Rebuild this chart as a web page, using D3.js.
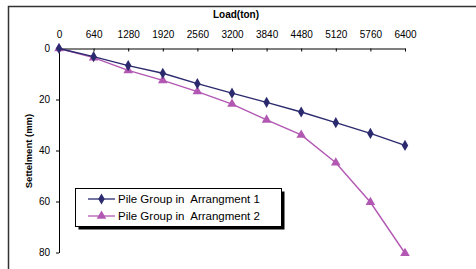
<!DOCTYPE html>
<html><head><meta charset="utf-8">
<script src="https://cdn.jsdelivr.net/npm/d3@7"></script>
<style>body{margin:0;background:#fff}svg{display:block;font-family:Arial,"Liberation Sans",sans-serif}</style>
</head><body>
<svg id="c" width="476" height="269"></svg>
<script>
const loads = [0,640,1280,1920,2560,3200,3840,4480,5120,5760,6400];
const xTicks = [0,640,1280,1920,2560,3200,3840,4480,5120,5760,6400];
const yTicks = [0,20,40,60,80];
const series1 = [0,3.2,6.7,9.7,13.8,17.5,21.1,24.9,29.1,33.3,38.0];
const series2 = [0,3.6,8.6,12.5,16.9,21.8,28.0,33.9,44.8,60.3,80.3];
const seriesNames = ["Pile Group in  Arrangment 1","Pile Group in  Arrangment 2"];
const colors = ["#2b2a6e","#b258b2"];

const svg = d3.select("#c");
svg.append("path").attr("d","M8.5,269 V6.5 H476").attr("fill","none").attr("stroke","#333").attr("stroke-width",1.5);

const x = d3.scaleLinear().domain([0,6400]).range([59,405]);
const y = d3.scaleLinear().domain([0,80]).range([48.5,252.5]);

const xa = svg.append("g").attr("transform","translate(0,48.5)")
  .call(d3.axisTop(x).tickValues(xTicks).tickSizeInner(-3).tickSizeOuter(0).tickPadding(11).tickFormat(d3.format("d")));
xa.select(".domain").attr("stroke","#000");
xa.selectAll("text").attr("font-size",10).attr("fill","#000");

const ya = svg.append("g").attr("transform","translate(59,0)")
  .call(d3.axisLeft(y).tickValues(yTicks).tickSizeInner(3).tickSizeOuter(0).tickPadding(6));
ya.select(".domain").attr("stroke","#000");
ya.selectAll("text").attr("font-size",10).attr("fill","#000");

svg.append("text").attr("x",236).attr("y",18).attr("text-anchor","middle")
  .attr("font-size",10).attr("font-weight","bold").text("Load(ton)");
svg.append("text").attr("transform","translate(32,151) rotate(-90)").attr("text-anchor","middle")
  .attr("font-size",9.5).attr("font-weight","bold").text("Settelment (mm)");

const all = [series1, series2];
const line = d3.line().x((d,i)=>x(loads[i])).y(d=>y(d));
const diamond = d3.symbol().type(d3.symbolDiamond).size(36);
const tri = d3.symbol().type(d3.symbolTriangle).size(40);

[1,0].forEach(k=>{
  svg.append("path").datum(all[k]).attr("d",line).attr("fill","none").attr("stroke",colors[k]).attr("stroke-width",1.4);
  svg.append("g").selectAll("path").data(all[k]).join("path")
    .attr("transform",(d,i)=>`translate(${x(loads[i])},${y(d)})`)
    .attr("d", k===0?diamond:tri).attr("fill",colors[k]);
});

const lg = svg.append("g");
lg.append("rect").attr("x",78.5).attr("y",191.5).attr("width",206).attr("height",38).attr("fill","#000");
lg.append("rect").attr("x",75.5).attr("y",188.5).attr("width",206).attr("height",38).attr("fill","#fff").attr("stroke","#000").attr("stroke-width",1);
seriesNames.forEach((nm,k)=>{
  const yy = 199 + k*17;
  lg.append("line").attr("x1",88).attr("x2",115).attr("y1",yy).attr("y2",yy).attr("stroke",colors[k]).attr("stroke-width",1.3);
  lg.append("path").attr("transform",`translate(101.5,${yy})`).attr("d",k===0?diamond:tri).attr("fill",colors[k]);
  lg.append("text").attr("x",118).attr("y",yy+4).attr("font-size",11.5).attr("fill","#000")
    .style("white-space","pre").text(nm);
});
</script>
</body></html>
